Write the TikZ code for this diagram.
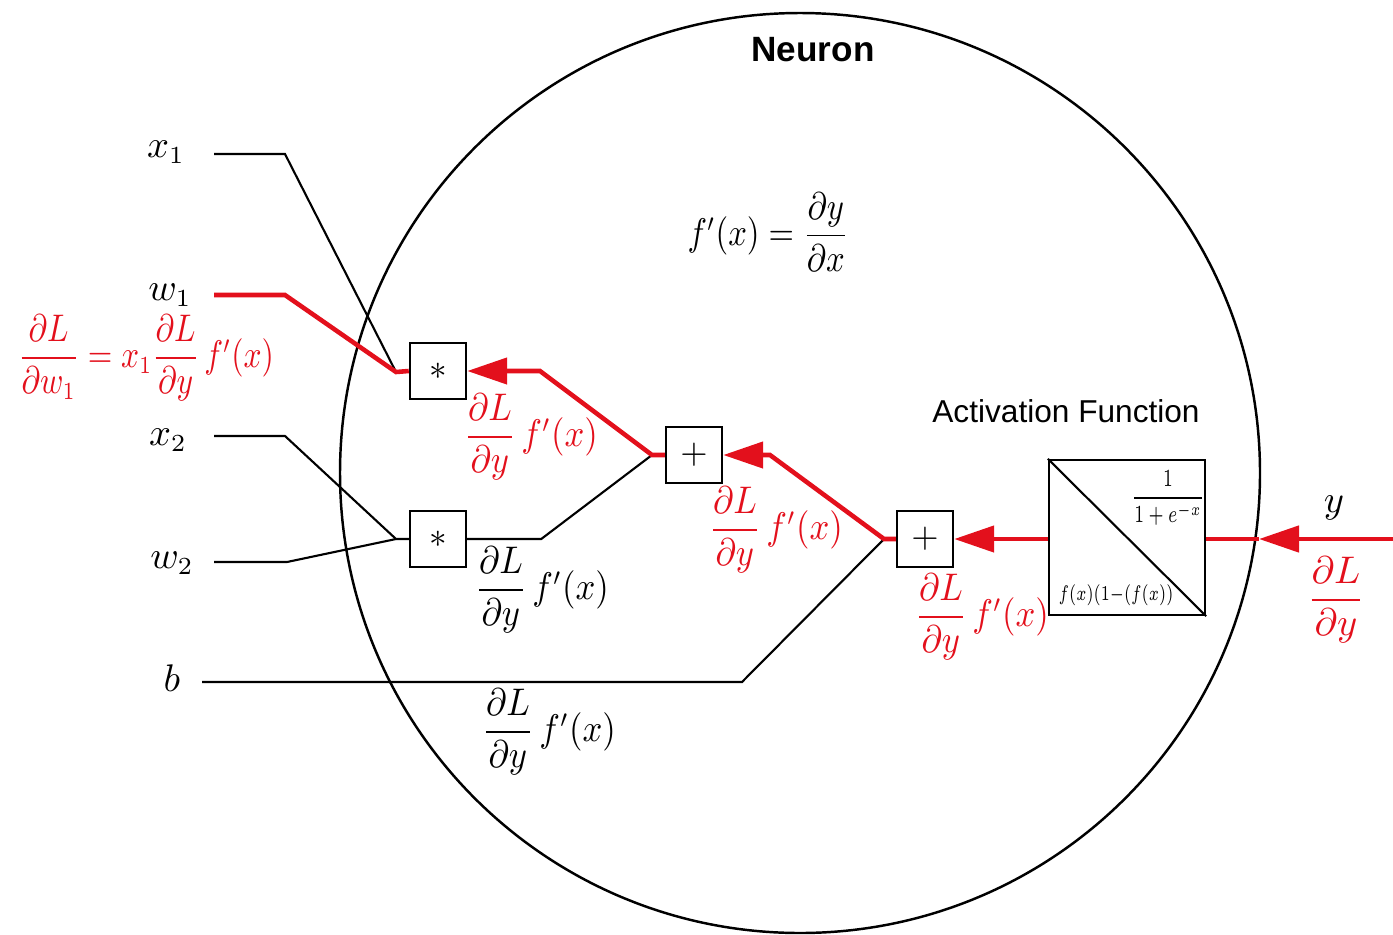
\documentclass[tikz,border=0pt]{standalone}
\usepackage{fontspec}
\setsansfont{Liberation Sans}
\usepackage{amsmath}
\usetikzlibrary{arrows.meta,positioning}
\definecolor{bpred}{HTML}{E3101C}
\newcommand{\narrow}[2]{\scalebox{#1}[1]{#2}}
\newcommand{\gradlab}{\narrow{0.9}{$\dfrac{\partial L}{\partial y}\,f'(x)$}}
\begin{document}
\begin{tikzpicture}[x=0.1mm,y=-0.1mm,
  wire/.style={black,line width=0.6pt},
  grad/.style={bpred,line width=1.3pt},
  gradtip/.style={grad,-{Triangle[length=4mm,width=2.6mm]}},
  opbox/.style={draw,line width=0.7pt,minimum size=5.6mm,inner sep=0pt,fill=white},
  mlab/.style={font=\fontsize{10.5}{13}\selectfont,inner sep=1pt}]
  \useasboundingbox (0,0) rectangle (1393,934);
  % neuron body
  \draw[line width=0.7pt] (800,473) circle (460);
  \node[font=\sffamily\bfseries\fontsize{10}{12}\selectfont] (title) at (813,50) {Neuron};
  \node[mlab] (deriv) at (768,232) {\narrow{0.85}{$f'(x)=\dfrac{\partial y}{\partial x}$}};
  \node[font=\sffamily\fontsize{9}{11}\selectfont] (actname) at (1066,411) {Activation Function};
  % operation boxes
  \node[opbox] (mul1) at (438,371) {$*$};
  \node[opbox] (mul2) at (438,539) {$*$};
  \node[opbox] (add1) at (694,455) {$+$};
  \node[opbox] (add2) at (925,539) {$+$};
  \node[draw,line width=0.7pt,minimum width=15.6mm,minimum height=15.5mm] (act) at (1127,537.5) {};
  \draw[line width=0.6pt] (act.north west) -- (act.south east);
  \node[font=\fontsize{7.5}{9}\selectfont,inner sep=0pt] (sig) at (1168,498) {\narrow{0.7}{$\dfrac{1}{1+e^{-x}}$}};
  \node[font=\fontsize{6.5}{8}\selectfont,inner sep=0pt] (dsig) at (1116,595) {\narrow{0.7}{$f(x)(1{-}(f(x))$}};
  % inputs
  \node[mlab] (x1) at (166,152) {$x_1$};
  \node[mlab] (w1) at (170,295) {$w_1$};
  \node[mlab] (x2) at (168,440) {$x_2$};
  \node[mlab] (w2) at (172,563) {$w_2$};
  \node[mlab] (b)  at (172,678) {$b$};
  \node[mlab] (y)  at (1334,508) {$y$};
  \coordinate (x1s) at (214,154);
  \coordinate (w1s) at (214,295);
  \coordinate (x2s) at (214,436);
  \coordinate (w2s) at (214,562);
  \coordinate (bs)  at (202,682);
  \coordinate (ys)  at (1393,539);
  \coordinate (ycut) at (1259,539);
  % join points
  \coordinate (j1) at (396,372);
  \coordinate (j2) at (396,539);
  \coordinate (j3) at (652,455);
  \coordinate (j4) at (884,539);
  % forward wires
  \draw[wire] (x1s) -- ++(71,0) -- (j1);
  \draw[wire] (x2s) -- ++(71,0) -- (j2) -- (mul2.west);
  \draw[wire] (w2s) -- ++(73,0) -- (j2);
  \draw[wire] (mul2.east) -- ++(74,0) -- (j3);
  \draw[wire] (bs) -- (742,682) -- (j4);
  % backward gradient path
  \draw[grad] (w1s) -- ++(71,0) -- (j1) -- (mul1.west);
  \draw[gradtip] (add1.west) -- (j3) -- (540,371) -- (mul1.east);
  \draw[gradtip] (add2.west) -- (j4) -- (770,455) -- (add1.east);
  \draw[gradtip] (act.west |- add2.east) -- (add2.east);
  \draw[gradtip] (ys) -- (ycut);
  \draw[grad] (ycut) -- (act.east |- ys);
  % gradient labels
  \node[mlab,text=bpred,anchor=west] (dw1) at (14,358) {\narrow{0.82}{$\dfrac{\partial L}{\partial w_1}=x_1\dfrac{\partial L}{\partial y}\,f'(x)$}};
  \node[mlab,text=bpred] (g1) at (531,437) {\gradlab};
  \node[mlab,text=bpred] (g2) at (776,530) {\gradlab};
  \node[mlab,text=bpred] (g3) at (982,617) {\gradlab};
  \node[mlab,text=bpred] (gy) at (1336,600) {$\dfrac{\partial L}{\partial y}$};
  \node[mlab] (g4) at (542,590) {\gradlab};
  \node[mlab] (g5) at (549,732) {\gradlab};
\end{tikzpicture}
\end{document}
